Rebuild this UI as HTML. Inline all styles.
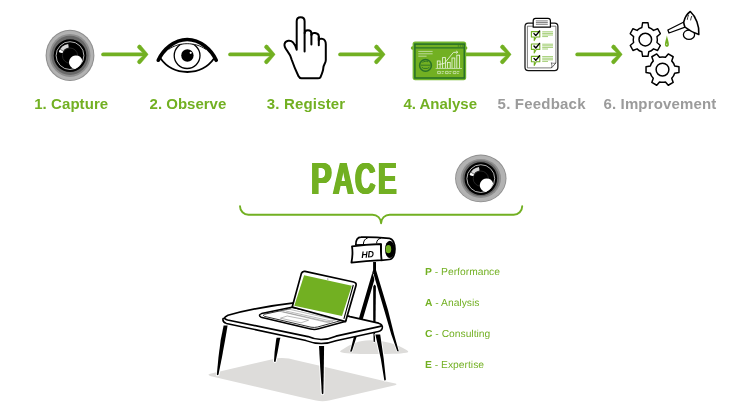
<!DOCTYPE html>
<html><head><meta charset="utf-8">
<style>
html,body{margin:0;padding:0;background:#fff;}
body{will-change:transform;width:749px;height:412px;overflow:hidden;position:relative;font-family:"Liberation Sans",sans-serif;}
svg{position:absolute;left:0;top:0;}
.lbl{position:absolute;font-weight:bold;font-size:15px;line-height:16px;white-space:nowrap;color:#72b022;letter-spacing:0;}
.g{color:#9b9b9b;}
.li{transform-origin:0 100%;transform:skewX(-0.8deg);position:absolute;left:425.2px;font-size:10.2px;letter-spacing:0.05px;line-height:11px;color:#72b022;white-space:nowrap;}
.li b{font-weight:bold;}
#pace{position:absolute;left:0;top:154.5px;font-weight:bold;font-size:43.75px;line-height:48px;color:#72b022;white-space:nowrap;}
#pace span{position:absolute;top:0;transform-origin:0 0;display:block;}
</style></head><body>
<svg width="749" height="412" viewBox="0 0 749 412">
<defs>
<g id="arrow" fill="#72b022" stroke="#72b022" stroke-linecap="round" stroke-linejoin="round">
<path d="M1.3 0H43" stroke-width="3.7" fill="none"/><path d="M39 -8.9L46.1 -0.4Q46.4 0 46.1 0.4L39 8.9A2 2 0 0 1 36.3 5.9L42.6 0L36.3 -5.9A2 2 0 0 1 39 -8.9Z" stroke-width="0.4"/>
</g>
<g id="lensin">
<circle cx="0" cy="0.2" r="16.3" fill="#000"/>
<circle cx="0" cy="0.2" r="13.9" fill="none" stroke="#fff" stroke-width="0.7"/>
<circle cx="0" cy="0.2" r="7.6" fill="none" stroke="#333" stroke-width="0.7"/>
<path d="M-11.09 -3.39A11.6 11.6 0 0 1 -1.81 -11.46L-1.25 -7.9A8 8 0 0 0 -7.65 -2.34Z" fill="#d6d6d6"/>
<path d="M-11.09 -3.39A11.6 11.6 0 0 1 -9.84 -6.15L-6.78 -4.24A8 8 0 0 0 -7.65 -2.34Z" fill="#fff"/>
<path d="M-9.84 -6.15L-6.78 -4.24" stroke="#222" stroke-width="0.6"/>
<path d="M5.9 0.1A6.8 6.8 0 0 0 0.6 11.2A6.8 6.8 0 0 0 5 13.6A13.7 13.7 0 0 0 12.4 5.2A6.8 6.8 0 0 0 5.9 0.1Z" fill="#fff"/>
</g>
</defs>
<!-- ARROWS -->
<use href="#arrow" x="101.8" y="54.4"/>
<use href="#arrow" x="228.8" y="54.4"/>
<use href="#arrow" x="338.8" y="54.4"/>
<use href="#arrow" x="464.8" y="54.4"/>
<use href="#arrow" x="575.9" y="54.4"/>
<!-- 1 LENS -->
<g transform="translate(70 55.4)">
<ellipse rx="24.4" ry="25.6" fill="#8e8e8e"/><ellipse rx="23.4" ry="24.6" fill="#b2b2b2"/><ellipse rx="20.5" ry="21.5" fill="#8e8e8e"/><ellipse rx="18.7" ry="19.6" fill="#686868"/>
<use href="#lensin"/></g>
<!-- 2 EYE -->
<g id="eye">
<path d="M160.6 58.6C167 67.6 176.5 72 187.3 72C198.1 72 207.6 67.6 214 58.6" fill="none" stroke="#000" stroke-width="1.8" stroke-linecap="round"/>
<circle cx="187.1" cy="55.6" r="12.9" fill="#fff" stroke="#000" stroke-width="1.3"/>
<circle cx="187.4" cy="55.5" r="6.2" fill="#000"/>
<circle cx="190.7" cy="52.8" r="1.1" fill="#fff"/>
<path d="M158.3 60.2C163 50 174 39.5 187.2 39.5C200.4 39.5 211.4 50 216.2 60.2L204.6 48.4C199 44.8 193 43.7 187.2 43.7C181.4 43.7 175.4 44.8 169.8 48.4Z" fill="#fff"/>
<path d="M168.6 49.4C174 45.4 181 43.7 187.2 43.7C193.4 43.7 200.4 45.4 205.8 49.4" fill="none" stroke="#000" stroke-width="0.9"/>
<path d="M158.3 60.2C163 50 174 39.5 187.2 39.5C200.4 39.5 211.4 50 216.2 60.2" fill="none" stroke="#000" stroke-width="3.7" stroke-linecap="round"/>
</g>
<!-- 3 HAND -->
<path id="hand" d="M296.7 49.7V21.3C296.7 16 304.6 16 304.6 21.3V33.1C304.8 29.2 311.2 29.2 311.4 33.3V35C311.8 32 318.4 32.2 318.8 36V40.5C319.4 37.4 325.8 38 325.8 44.2V60C325.8 63.5 323.4 64.5 323.3 68C323.2 71 321.6 74.5 320.4 77.4C319.8 78.2 319 78.3 318 78.3H301.5C300 78.3 299.2 77.6 298.4 76C296 71 293.4 64.8 291.7 59.8C290.8 56.5 289.6 54 287.4 51.2C285.6 48.9 283.8 46.6 284.6 43.8C285.6 40.2 290.6 39.8 293 42.4C294.8 44.4 296 46.8 296.7 49.7" fill="#fff" stroke="#000" stroke-width="2" stroke-linejoin="round" stroke-linecap="round"/>
<path d="M304.6 33.1V51.5M311.4 34V44.4M318.8 37V45.2" fill="none" stroke="#000" stroke-width="2" stroke-linecap="round"/>
<!-- 4 ANALYSE -->
<g id="analyse">
<rect x="410.8" y="46.2" width="4" height="3.6" rx="1.7" fill="#72b022"/>
<rect x="464" y="46.2" width="3.4" height="3.6" rx="1.7" fill="#72b022"/>
<rect x="412.6" y="41.5" width="53.6" height="38.7" rx="2.6" fill="#72b62e"/>
<rect x="414.9" y="44.1" width="49.4" height="33.9" fill="#72b022" stroke="#2a7226" stroke-width="1.6"/>
<path d="M414.9 47.9H464.3" stroke="#2a7226" stroke-width="1.1"/>
<path d="M457.8 46H458.8M459.8 46H460.8M461.8 46H462.8" stroke="#1f5c1c" stroke-width="0.9"/>
<path d="M418.3 51.4H432.6M418.3 53.8H432.6M418.3 56.2H426.6" stroke="#cfe6b8" stroke-width="0.8"/>
<circle cx="425.5" cy="65.4" r="5.9" fill="none" stroke="#2a7226" stroke-width="1.5"/>
<path d="M422.4 62.4C424 61.2 426.4 61 428 61.8M420.8 65.2H430.6M421.8 67.2L423.6 68.4H427.6L429.4 67.2" fill="none" stroke="#2a7226" stroke-width="0.9"/>
<g fill="none" stroke="#e6f3d8" stroke-width="0.9">
<rect x="437.3" y="61" width="2.8" height="7.4"/><rect x="442.6" y="57.6" width="2.8" height="10.8"/><rect x="447.4" y="62.4" width="2.8" height="6"/><rect x="452" y="58" width="2.8" height="10.4"/><rect x="456.8" y="55.2" width="2.8" height="13.2"/>
<path d="M435.6 68.5H462" stroke="#bfdca2"/>
<path d="M438.4 64.6L444.4 63.4L453.4 52.4L457.6 52.2M456.2 51L457.8 52.2L456.4 53.6"/>
<path d="M437.6 71.4H440.4V73.6H437.6ZM441.6 71.6H444M441.6 73.4H443.4M445.4 71.4H448.2V73.6H445.4ZM449.2 71.6H451.6M449.2 73.4H451M453.2 71.4H456V73.6H453.2ZM457 71.6H459.4M457 73.4H458.8" stroke="#cfe6b8" stroke-width="0.8"/>
</g>
</g>
<!-- 5 CLIPBOARD -->
<g id="clip">
<rect x="525" y="23.2" width="32.9" height="47.5" rx="3.4" fill="#fff" stroke="#111" stroke-width="1.25"/>
<path d="M527.4 26.2H555.9V63L551.4 67.9H527.4Z" fill="#fff" stroke="#444" stroke-width="0.7"/>
<path d="M551.4 67.9C552.2 66 552 64.4 551.2 62.8C552.8 63.4 554.4 63.5 555.9 63Z" fill="#fff" stroke="#444" stroke-width="0.7" stroke-linejoin="round"/>
<path d="M533.2 27.2V20.8C533.2 19.2 534.2 18.4 535.6 18.4H548C549.6 18.4 550.4 19.4 550.4 20.8V27.2Z" fill="#fff" stroke="#000" stroke-width="1.2" stroke-linejoin="round"/>
<path d="M535.9 20.9H547.8M535.9 22.6H547.8M535.9 24.3H547.8" stroke="#222" stroke-width="0.6"/>
<g fill="#fff" stroke="#72b022" stroke-width="1.1" stroke-linejoin="round">
<path d="M531.4 31.6H539.8V37H536.2L534.2 40.6L534.4 37H531.4Z"/>
<path d="M531.4 44H539.8V49.4H536.2L534.2 53L534.4 49.4H531.4Z"/>
<path d="M531.4 56.4H539.8V61.8H536.2L534.2 65.4L534.4 61.8H531.4Z"/>
</g>
<g fill="none" stroke="#000" stroke-width="1.4" stroke-linejoin="round" stroke-linecap="round">
<path d="M534 33.6L535.8 35.6L539.6 31"/>
<path d="M534 46L535.8 48L539.6 43.4"/>
<path d="M534 58.4L535.8 60.4L539.6 55.8"/>
</g>
<g stroke="#8cc252" stroke-width="0.8">
<path d="M542.2 31.8H553M542.2 33.4H553M542.2 35H553M542.2 36.6H548"/>
<path d="M542.2 44.2H553M542.2 45.8H553M542.2 47.4H553M542.2 49H548"/>
<path d="M542.2 56.6H553M542.2 58.2H553M542.2 59.8H553M542.2 61.4H548"/>
</g>
</g>
<!-- 6 GEARS -->
<g id="gears" fill="#fff" stroke="#000" stroke-width="1.5" stroke-linejoin="round">
<path d="M641.67 27.43L642.42 22.85L648.18 22.85L648.93 27.43A12.70 12.70 0 0 1 654.02 30.37L658.37 28.73L661.25 33.71L657.66 36.66A12.70 12.70 0 0 1 657.66 42.54L661.25 45.49L658.37 50.47L654.02 48.83A12.70 12.70 0 0 1 648.93 51.77L648.18 56.35L642.42 56.35L641.67 51.77A12.70 12.70 0 0 1 636.58 48.83L632.23 50.47L629.35 45.49L632.94 42.54A12.70 12.70 0 0 1 632.94 36.66L629.35 33.71L632.23 28.73L636.58 30.37A12.70 12.70 0 0 1 641.67 27.43Z" transform="translate(645.3 0) scale(0.945 1) translate(-645.3 0)"/>
<circle cx="645.3" cy="39.6" r="6.3"/>
<path d="M674.67 65.97L678.96 66.77L678.96 72.43L674.67 73.23A12.70 12.70 0 0 1 671.73 78.32L673.18 82.44L668.28 85.27L665.44 81.96A12.70 12.70 0 0 1 659.56 81.96L656.72 85.27L651.82 82.44L653.27 78.32A12.70 12.70 0 0 1 650.33 73.23L646.04 72.43L646.04 66.77L650.33 65.97A12.70 12.70 0 0 1 653.27 60.88L651.82 56.76L656.72 53.93L659.56 57.24A12.70 12.70 0 0 1 665.44 57.24L668.28 53.93L673.18 56.76L671.73 60.88A12.70 12.70 0 0 1 674.67 65.97Z"/>
<circle cx="662.5" cy="69.6" r="6.4"/>
<ellipse cx="689" cy="34.7" rx="5.6" ry="4.7" stroke-width="1.3"/>
<path d="M683.9 22L667.9 30L669 33L685.8 26.8Z" stroke-width="1.3"/>
<path d="M690.3 11.5C687.5 13.5 684.6 18 683.7 22.2C683.9 24 684.3 25.6 684.9 27C688.5 30 694 32.8 698.8 34.4C699.6 26 695.8 16.5 690.3 11.5Z" stroke-width="1.6"/>
<path d="M688.6 14.8C687.9 16.4 687.5 18 687.3 19.8M691.8 16C691.2 17.4 690.8 18.8 690.6 20.4" fill="none" stroke-width="0.8"/>
<path d="M666.9 35.6C667.6 39.2 668.9 42 668.9 44.4C668.9 47.6 664.9 47.6 664.9 44.4C664.9 42 666.2 39.2 666.9 35.6Z" fill="#72b022" stroke="none"/><circle cx="666.7" cy="44.3" r="0.7" fill="#cfe6b4" stroke="none"/>
</g>
<!-- BRACE -->
<path d="M240 206.2A8.5 8.5 0 0 0 248.5 214.7H372.5A8.6 8.6 0 0 1 381.1 223.2A8.6 8.6 0 0 1 389.7 214.7H513.7A8.5 8.5 0 0 0 522.2 206.2" fill="none" stroke="#72b022" stroke-width="1.9" stroke-linecap="round" stroke-linejoin="round"/>
<!-- LENS 2 -->
<g transform="translate(480.8 178.4)">
<ellipse rx="25.7" ry="23.8" fill="#8e8e8e"/><ellipse rx="24.8" ry="23" fill="#b2b2b2"/><ellipse rx="20.2" ry="19.5" fill="#8e8e8e"/><ellipse rx="18.3" ry="17.9" fill="#686868"/>
<use href="#lensin"/></g>
<!--SCENE-START-->
<g id="scene">
<!-- shadows -->
<path d="M209.2 375.6Q207.4 374.6 210.2 373.8L271.3 359.4Q283 356.4 296 360.2L322 366.3L386 381.4L395.4 383.6Q397.8 384.4 395 385.2L329 400.6Q322.6 402 316 400.6L300 396.9L211 376.2Z" fill="#dddcda"/>
<path d="M340.4 352C339.6 351 341 350.4 343 349.2C350 344.4 359 340.4 370 340.3C384 340.2 398 344.6 405.6 349.6C407.6 350.8 408.8 351.4 408 352.2C404 353.6 394 354 374 354C354 354 344 353.6 340.4 352Z" fill="#dddcda"/>
<!-- tripod -->
<g fill="#000" stroke="#fff" stroke-width="1.4" stroke-linejoin="round" paint-order="stroke">
<path d="M373.2 286L374.5 284.6L375.9 286L375.6 318L374.9 341.6Q374.2 342.6 373.6 341.6L373.2 318Z"/>
<path d="M373.1 270L376.4 273L363.6 316.6L355.4 340.6L351.9 351.3Q351 352.3 350.2 351.2L353.2 339.6L359.9 315Z"/>
<path d="M376 270L373.4 273.4L384.3 310.6L391.3 334.6L397.2 351Q398 352 398.7 350.9L394 334L388 310Z"/>
</g>
<path d="M373.1 262H376V274H373.1Z" fill="#000"/>
<!-- table legs -->
<g fill="#000" stroke="#fff" stroke-width="2" stroke-linejoin="round" paint-order="stroke">
<path d="M276.6 337.8L280.4 337.8L279.8 340L277.6 352L275.6 361.4Q274.8 362.5 274 361.3L274.6 352L276.1 340Z"/>
<path d="M223.6 325.6L227.6 325.6L225.1 340L222 357L218.5 374.6Q217.6 375.8 216.8 374.6L218.5 357L220.7 340Z"/>
<path d="M375.4 334.4L380.2 334.4L383.7 358.8L385.9 379.6Q385.3 381 384.3 380.2L380.8 358.8Z"/>
<path d="M319 346L324.1 346L323.8 368.5L323.4 393.4Q322.7 395 321.8 393.4L320.3 368.5Z"/>
</g>
<!-- table slab -->
<path d="M223 318.6Q222.2 322.2 226.4 323.4L306 340.6Q321 346.4 336 340.8L378.4 331.4Q383 330.4 382.3 326L340 320L232 318Z" fill="#fff" stroke="#000" stroke-width="1.5" stroke-linejoin="round"/>
<path d="M228 315.2C245 310.6 268 305.8 296 302.6L300 302L350 316.6L378.6 323.2Q383.6 324.8 380.2 326.4L336 336.2Q321 342.6 308 336.6L227.6 320Q221.4 318.2 228 315.2Z" fill="#fff" stroke="#000" stroke-width="1.7" stroke-linejoin="round"/>
<!-- laptop base -->
<path d="M291.8 307.2L261.6 313.6Q257.6 315 261 317.2L310.6 329Q314.6 330 318.6 328.8L344.2 321.8Q346.4 321 345.8 319Z" fill="#fff" stroke="#000" stroke-width="1.5" stroke-linejoin="round"/>
<path d="M290.6 308.6L264.6 314.2Q262 315.2 264.6 316.4L311 327.2Q314.4 327.8 317.6 327L341.6 320.4" fill="none" stroke="#000" stroke-width="0.8" stroke-linejoin="round"/>
<g fill="none" stroke="#808080" stroke-width="0.55">
<path d="M279.4 311.2L289 309.2L335.6 319.8L327 322.4Z"/>
<path d="M282.6 311.7L330.2 322.3M285.8 311L333 321.4"/>
<path d="M280.4 318.2L287.2 316L308.6 320.2L301 322.8Z"/>
</g>
<!-- lid -->
<path d="M301.4 273.4Q302.4 270.8 305 271.4L353.6 282Q356.8 282.8 356 285.6L345.6 321.6L292.2 307Z" fill="#fff" stroke="#000" stroke-width="1.7" stroke-linejoin="round"/>
<path d="M353.3 285L343.9 318.9" stroke="#000" stroke-width="1.1" fill="none"/>
<path d="M304.1 275.3L351.8 285.8L342 315.9L294.3 305.8Z" fill="#72b022"/>
<circle cx="327.8" cy="279" r="0.6" fill="#555"/>
<!-- camera -->
<g stroke="#000" stroke-linejoin="round" stroke-linecap="round">
<path d="M355.8 245C355.8 240 357.6 237.2 361 237.2C370 237 381 237.6 389.4 238.4C396.8 239.2 396.8 258.8 389.4 259.5L381 260.4L381 244.4Z" fill="#fff" stroke-width="1.7"/>
<path d="M363.4 243.8C363.6 240.8 365 238.6 367.2 238.2M376.6 243C376.8 240.4 378.2 238.6 380.4 238.4" fill="none" stroke-width="1"/>
<ellipse cx="389.9" cy="249.3" rx="4.9" ry="8.6" fill="#000" stroke="none"/>
<ellipse cx="388.4" cy="249.2" rx="2.8" ry="4.1" fill="#72b022" stroke="none"/>
<path d="M352 246.3Q366 244.4 381 244.1Q380.6 252 381.6 260.2Q366 260.8 351.4 262.7Q353.2 254 352 246.3Z" fill="#fff" stroke-width="1.8"/>
</g>
<text x="361.2" y="257.6" font-family="Liberation Sans, sans-serif" font-weight="bold" font-style="italic" font-size="9.2" fill="#000" transform="rotate(-3 367 254)" textLength="12.6" lengthAdjust="spacingAndGlyphs">HD</text>
</g>
<!--SCENE-END-->
</svg>
<div class="lbl" id="l1" style="left:34.2px;top:96.4px;letter-spacing:0.07px">1. Capture</div>
<div class="lbl" id="l2" style="left:149.6px;top:95.9px;letter-spacing:0.00px">2. Observe</div>
<div class="lbl" id="l3" style="left:266.8px;top:96.2px;letter-spacing:0.17px">3. Register</div>
<div class="lbl" id="l4" style="left:403.4px;top:96.4px;letter-spacing:0.00px">4. Analyse</div>
<div class="lbl g" id="l5" style="left:497.6px;top:95.9px;letter-spacing:0.20px">5. Feedback</div>
<div class="lbl g" id="l6" style="left:603.4px;top:96.2px;letter-spacing:0.16px">6. Improvement</div>
<div id="pace"><span style="left:311.47px;transform:scaleX(0.711);text-shadow:1.34px 0 0 #72b022,-1.34px 0 0 #72b022,0.67px 0 0 #72b022,-0.67px 0 0 #72b022">P</span><span style="left:333.24px;transform:scaleX(0.651);text-shadow:1.46px 0 0 #72b022,-1.46px 0 0 #72b022,0.73px 0 0 #72b022,-0.73px 0 0 #72b022">A</span><span style="left:355.19px;transform:scaleX(0.647);text-shadow:1.47px 0 0 #72b022,-1.47px 0 0 #72b022,0.73px 0 0 #72b022,-0.73px 0 0 #72b022">C</span><span style="left:377.79px;transform:scaleX(0.637);text-shadow:1.49px 0 0 #72b022,-1.49px 0 0 #72b022,0.75px 0 0 #72b022,-0.75px 0 0 #72b022">E</span></div>
<div class="li" style="top:265.6px"><b>P</b> - Performance</div>
<div class="li" style="top:296.9px"><b>A</b> - Analysis</div>
<div class="li" style="top:328.3px"><b>C</b> - Consulting</div>
<div class="li" style="top:358.6px"><b>E</b> - Expertise</div>
</body></html>
